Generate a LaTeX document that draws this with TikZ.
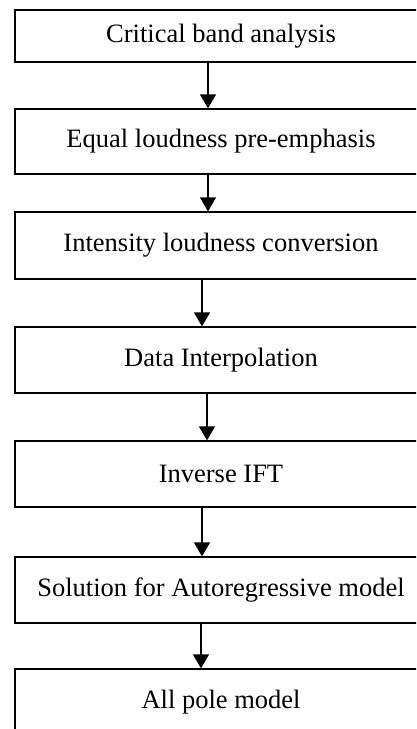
\documentclass[tikz,border=0pt]{standalone}
\usepackage{fontspec}
\setmainfont{Liberation Serif}
\usetikzlibrary{arrows.meta}
\begin{document}
\begin{tikzpicture}[x=1pt,y=-1pt,
  box/.style={draw,line width=1.3pt,minimum width=412pt,inner sep=0pt,
    font=\fontsize{26.5}{30}\selectfont},
  arr/.style={line width=1.3pt,-{Triangle[width=16pt,length=14pt]}}]
\clip (0,0) rectangle (416,729);
\useasboundingbox (0,0) rectangle (416,729);
\node[box,minimum height=52pt] (b1) at (221,36) {Critical band analysis};
\node[box,minimum height=65pt] (b2) at (221,141.5) {Equal loudness pre-emphasis};
\node[box,minimum height=67pt] (b3) at (221,245.5) {Intensity loudness conversion};
\node[box,minimum height=66pt] (b4) at (221,360) {Data Interpolation};
\node[box,minimum height=66pt] (b5) at (221,474) {Inverse IFT};
\node[box,minimum height=66pt] (b6) at (221,590) {Solution for Autoregressive model};
\node[box,minimum height=66pt] (b7) at (221,702) {All pole model};
\draw[arr] ([xshift=-13pt]b1.south) -- ([xshift=-13pt]b2.north);
\draw[arr] ([xshift=-13pt]b2.south) -- ([xshift=-13pt]b3.north);
\draw[arr] ([xshift=-19pt]b3.south) -- ([xshift=-19pt]b4.north);
\draw[arr] ([xshift=-14pt]b4.south) -- ([xshift=-14pt]b5.north);
\draw[arr] ([xshift=-19pt]b5.south) -- ([xshift=-19pt]b6.north);
\draw[arr] ([xshift=-20pt]b6.south) -- ([xshift=-20pt]b7.north);
\end{tikzpicture}
\end{document}
